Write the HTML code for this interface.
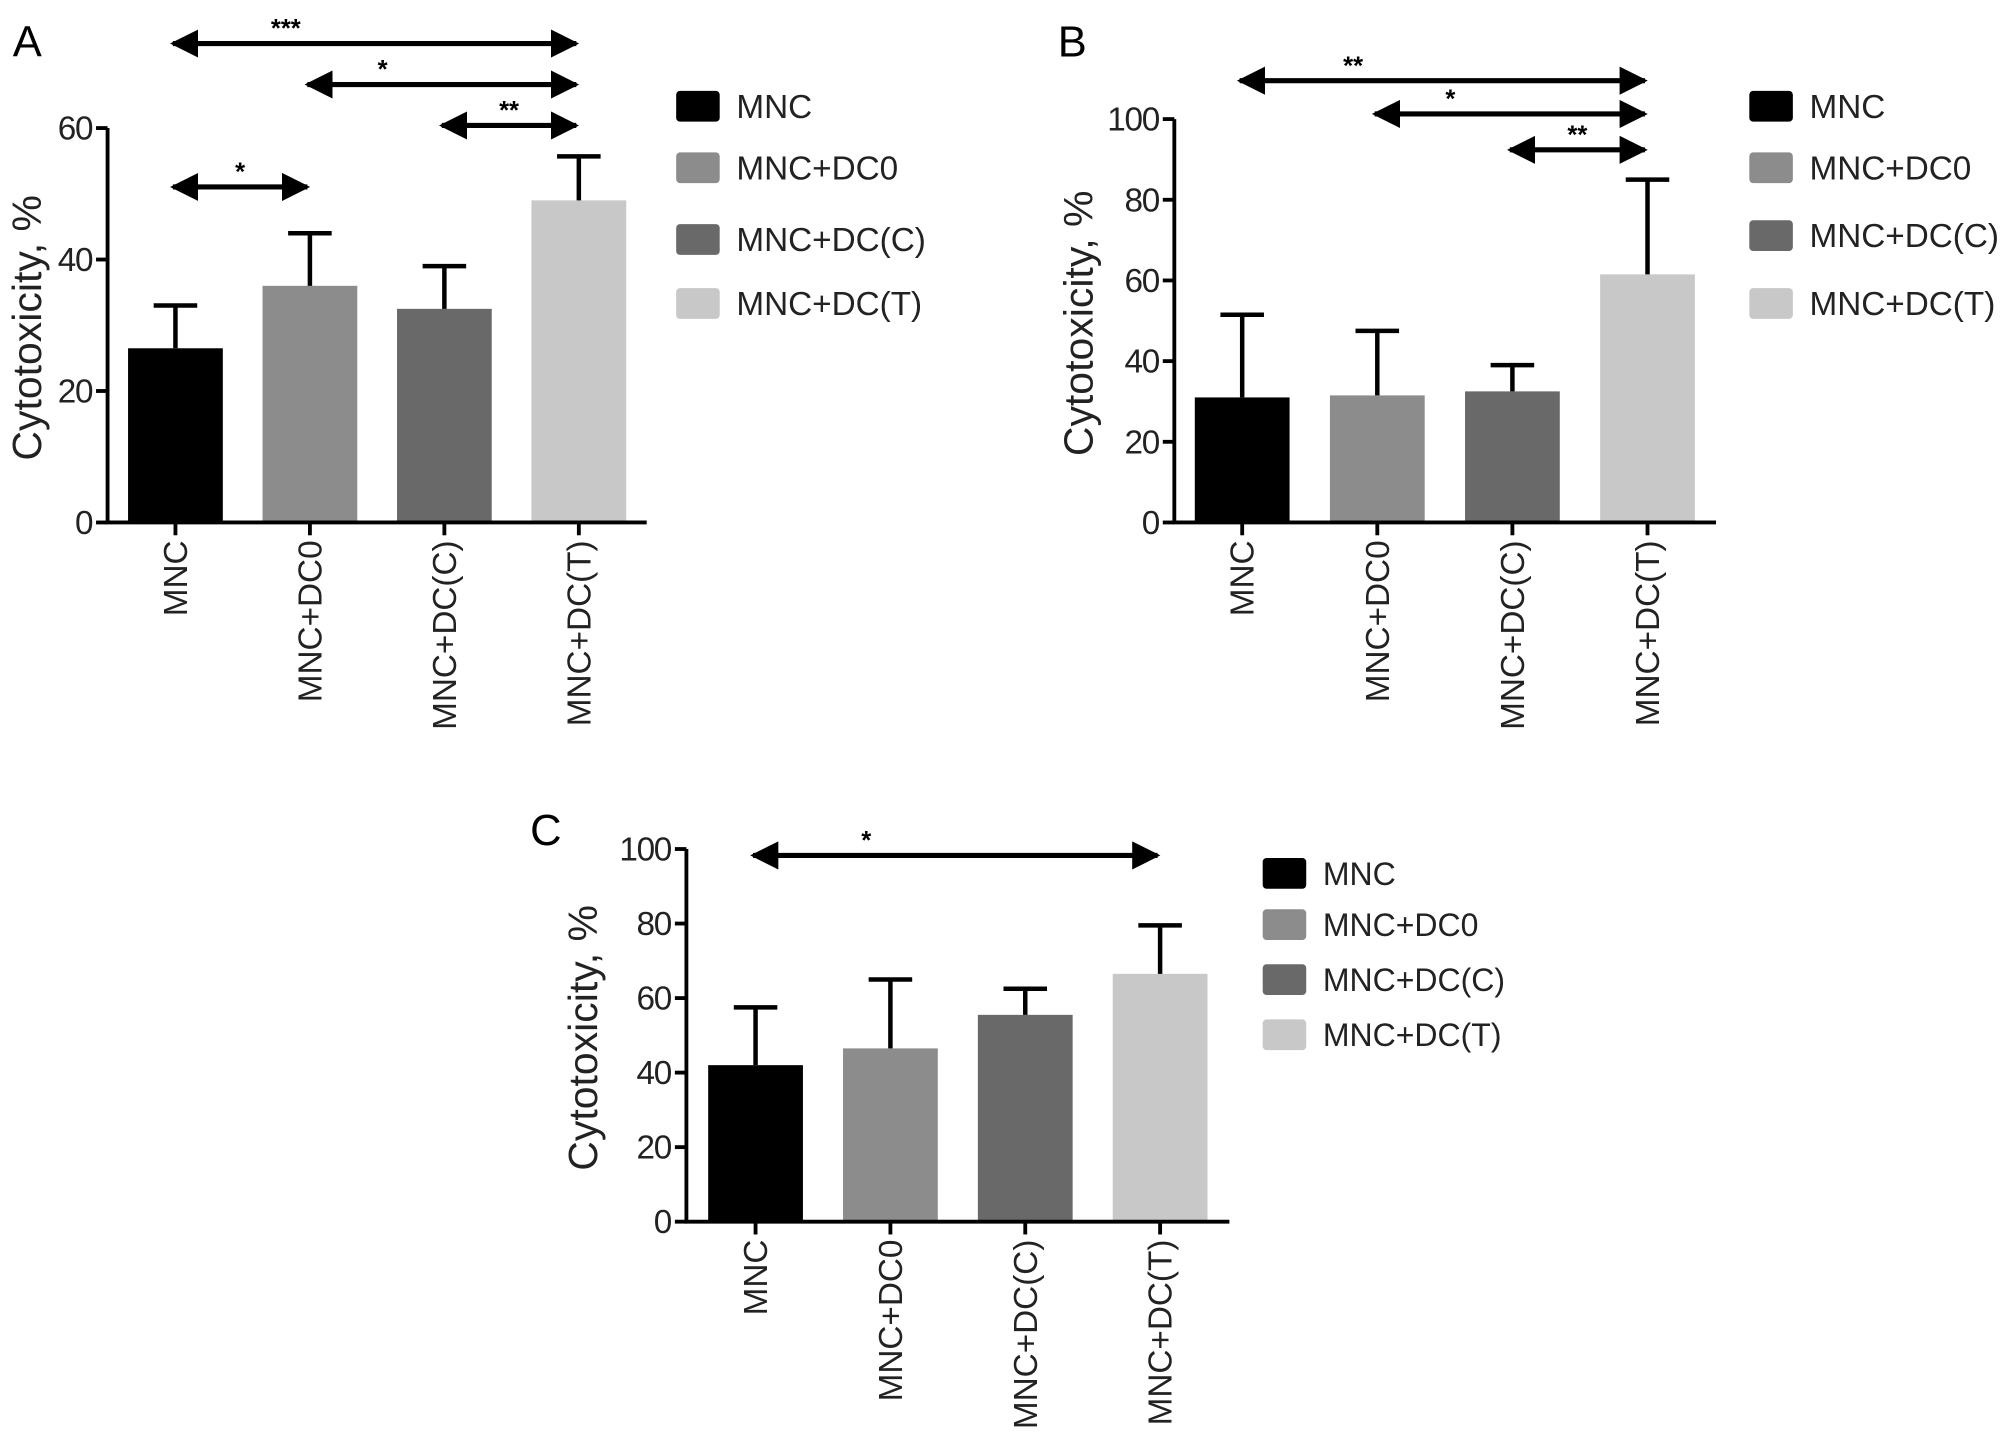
<!DOCTYPE html>
<html><head><meta charset="utf-8"><style>
html,body{margin:0;padding:0;background:#fff;}
svg{display:block;font-family:"Liberation Sans",Arial,sans-serif;}
</style></head><body>
<svg id="fig" width="2008" height="1445" viewBox="0 0 1568 1128.4" preserveAspectRatio="none" xmlns="http://www.w3.org/2000/svg">
<defs>
<marker id="ah" viewBox="0 0 10 10" refX="9" refY="5" markerWidth="5.5" markerHeight="5.5" orient="auto-start-reverse"><path d="M0,0 L10,5 L0,10 z" fill="#000"/></marker>
</defs>
</svg>
<script>
const categories = ["MNC","MNC+DC0","MNC+DC(C)","MNC+DC(T)"];
const colors = ["#000000","#8c8c8c","#696969","#c8c8c8"];
const valuesA = [26.5, 36, 32.5, 49];
const errorsA = [33, 44, 39, 55.7];
const ticksA = [0, 20, 40, 60];
const valuesB = [31, 31.5, 32.5, 61.5];
const errorsB = [51.5, 47.5, 39, 85];
const ticksB = [0, 20, 40, 60, 80, 100];
const valuesC = [42, 46.5, 55.5, 66.5];
const errorsC = [57.5, 65, 62.5, 79.5];
const ticksC = [0, 20, 40, 60, 80, 100];
// significance brackets: [fromIndex, toIndex, stars]
const sigA = [[0,3,"***"],[1,3,"*"],[2,3,"**"],[0,1,"*"]];
const sigB = [[0,3,"**"],[1,3,"*"],[2,3,"**"]];
const sigC = [[0,3,"*"]];

const NS = "http://www.w3.org/2000/svg";
const svg = document.getElementById('fig');
function mk(tag, attrs, parent, text){
  const e = document.createElementNS(NS, tag);
  for (const k in attrs) e.setAttribute(k, attrs[k]);
  if (text !== undefined) e.textContent = text;
  (parent||svg).appendChild(e); return e;
}

function panel(cfg){
  const g = mk('g', {});
  
  
  const ymax = cfg.ticks[cfg.ticks.length-1];
  const y = v => cfg.y0 - (v / ymax) * (cfg.y0 - cfg.yTop);
  const x = i => cfg.c0 + i * cfg.step;
  const bw = 74;
  const L = mk('text', {x: cfg.letterX, y: cfg.letterY, 'font-size': 34}, g, cfg.id);
  
  
  cfg.values.forEach((v, i) => {
    const b = mk('rect', {x: x(i)-bw/2, y: y(v), width: bw, height: cfg.y0 - y(v), fill: colors[i]}, g);
    
    
    const e = mk('path', {d: `M${x(i)},${y(v)} V${y(cfg.errors[i])} M${x(i)-17},${y(cfg.errors[i])} H${x(i)+17}`, stroke: '#000', 'stroke-width': 3.5, fill: 'none'}, g);
    
    
  });
  const ax = mk('path', {d: `M${cfg.ax},${cfg.yTop} V${cfg.y0} H${cfg.xEnd}`, stroke: '#000', 'stroke-width': 3, fill: 'none'}, g);
  
  
  cfg.ticks.forEach(t => {
    mk('line', {x1: cfg.ax-9, x2: cfg.ax, y1: y(t), y2: y(t), stroke: '#000', 'stroke-width': 3}, g);
    const tl = mk('text', {x: cfg.ax-12, y: y(t)+9, 'font-size': 26, 'text-anchor': 'end', fill: '#222', 'letter-spacing': -1}, g, t);
    
    
  });
  categories.forEach((c, i) => {
    mk('line', {x1: x(i), x2: x(i), y1: cfg.y0, y2: cfg.y0+10, stroke: '#000', 'stroke-width': 3}, g);
    const t = mk('text', {transform: `translate(${x(i)+9},${cfg.y0+14}) rotate(-90)`, 'font-size': 26, 'text-anchor': 'end', fill: '#222'}, g, c);
    
    
  });
  const yl = mk('text', {transform: `translate(${cfg.ylX},${(cfg.y0+cfg.yTop)/2+2}) rotate(-90)`, 'font-size': 32, 'text-anchor': 'middle', fill: '#222'}, g, 'Cytotoxicity, %');
  
  
  cfg.sig.forEach((s, k) => {
    const yy = cfg.sigY[k];
    const x1 = x(s[0]) - 2, x2 = x(s[1]) - 2;
    const ln = mk('line', {x1: x1, x2: x2, y1: yy, y2: yy, stroke: '#000', 'stroke-width': 4, 'marker-start': 'url(#ah)', 'marker-end': 'url(#ah)'}, g);
    
    
    const st = mk('text', {x: (x1 + x2) / 2 - (s[1]-s[0] === 1 ? 0 : (x2-x1)*0.22), y: yy - 5, 'font-size': 20, 'text-anchor': 'middle', 'font-weight': 'bold'}, g, s[2]);
    
    
  });
  categories.forEach((c, i) => {
    const cy = cfg.legY[i];
    const r = mk('rect', {x: cfg.legX, y: cy-12, width: 34, height: 24, rx: 3, fill: colors[i]}, g);
    
    
    const t = mk('text', {x: cfg.legX+47, y: cy+9, 'font-size': cfg.legFont, fill: '#222'}, g, c);
    
    
  });
}

panel({id:'A', values: valuesA, errors: errorsA, ticks: ticksA, sig: sigA,
  y0: 408, yTop: 100, ax: 84, xEnd: 505, c0: 137, step: 105,
  sigY: [34, 66, 98, 146], letterX: 10, letterY: 44, ylX: 32,
  legX: 528, legY: [83, 131, 187, 237], legFont: 26});
panel({id:'B', values: valuesB, errors: errorsB, ticks: ticksB, sig: sigB,
  y0: 408, yTop: 93, ax: 917, xEnd: 1340, c0: 970, step: 105.5,
  sigY: [63, 89, 117], letterX: 826, letterY: 44, ylX: 853,
  legX: 1366, legY: [83, 131, 184, 237], legFont: 26});
panel({id:'C', values: valuesC, errors: errorsC, ticks: ticksC, sig: sigC,
  y0: 954, yTop: 663, ax: 536, xEnd: 960, c0: 590, step: 105.3,
  sigY: [668], letterX: 414, letterY: 660, ylX: 466,
  legX: 986, legY: [682, 722, 765, 808], legFont: 25});
</script>
</body></html>
